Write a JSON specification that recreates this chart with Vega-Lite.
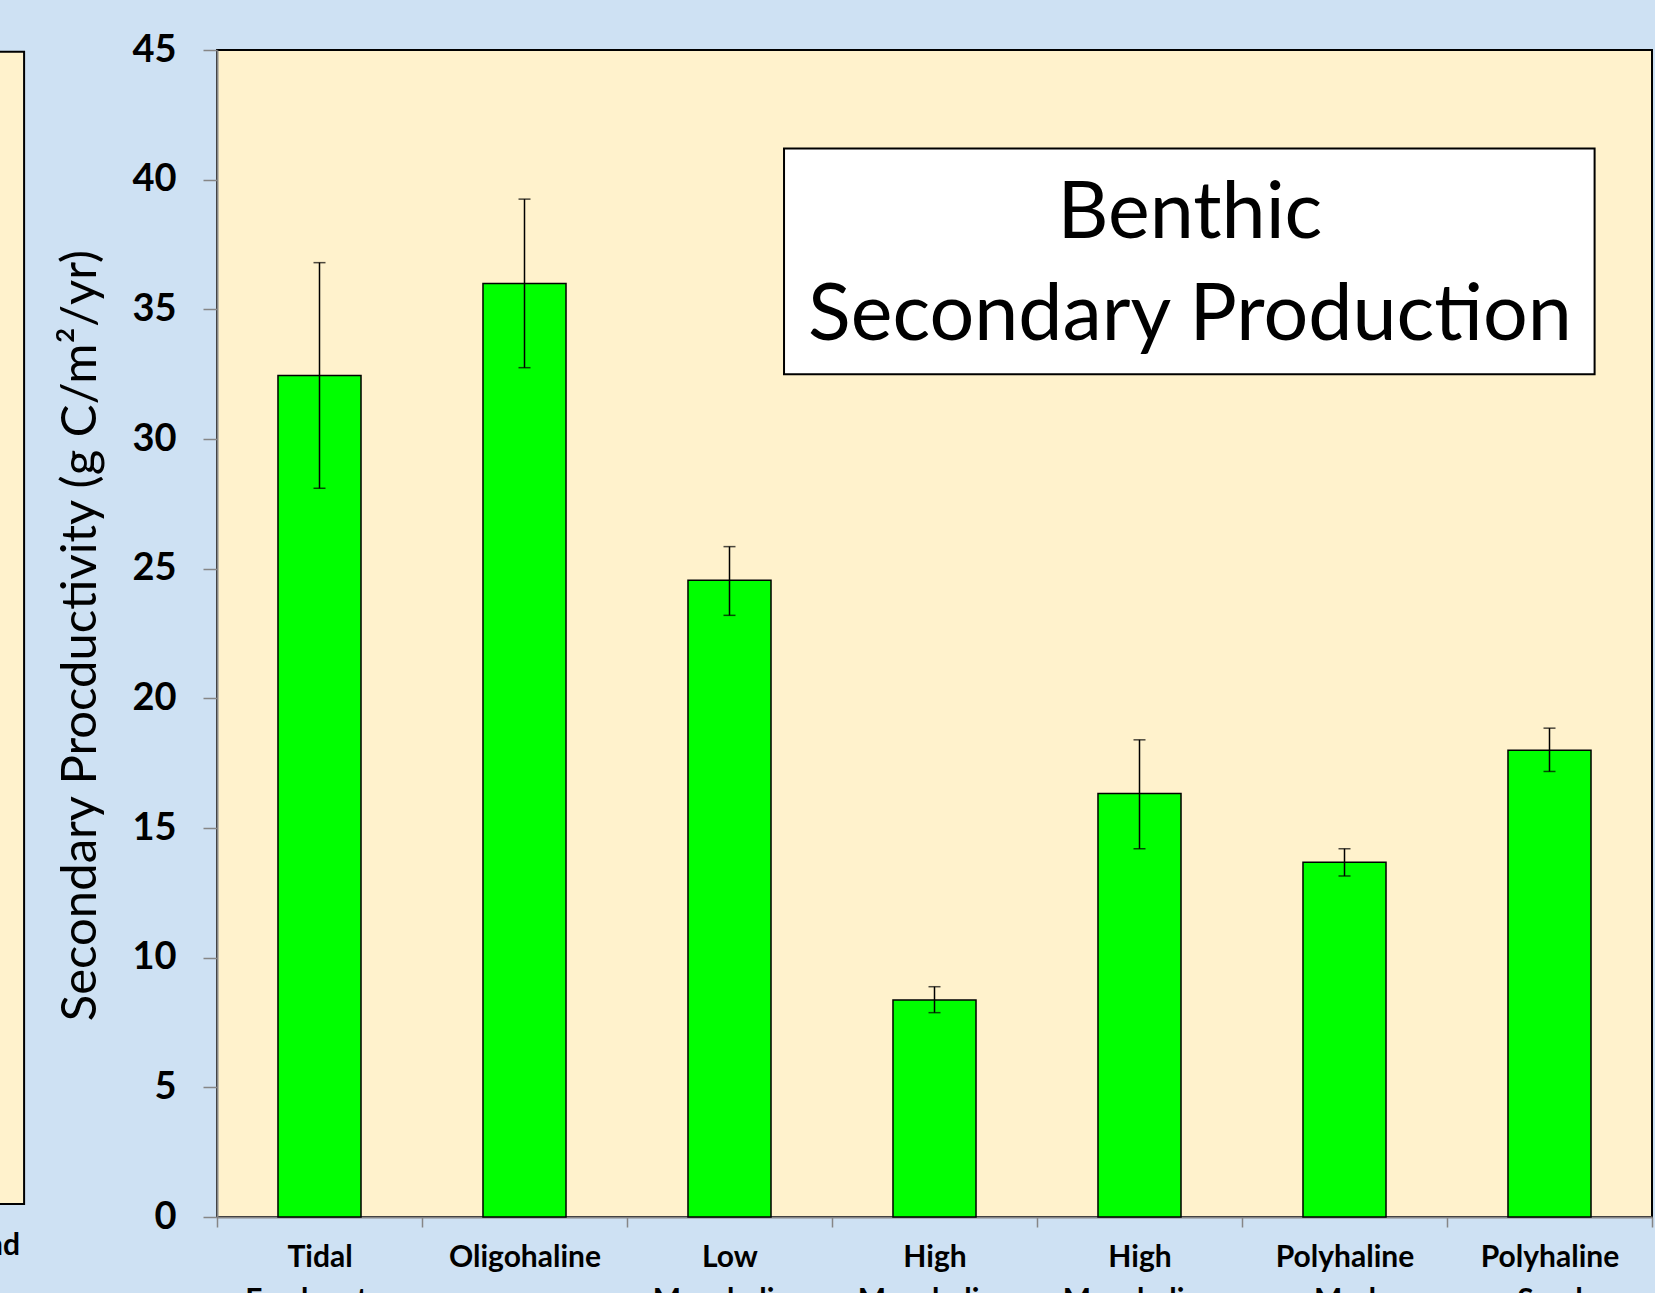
{
  "$schema": "https://vega.github.io/schema/vega-lite/v6.json",
  "width": 1435,
  "height": 1167,
  "autosize": {"type": "none"},
  "padding": {"left": 217, "top": 50, "right": 3, "bottom": 76},
  "background": "#CEE1F3",
  "config": {
    "view": {"fill": "#FFF2CC", "stroke": "#000000", "strokeWidth": 2},
    "font": "Lato"
  },
  "datasets": {
    "prod": [
      {"habitat": "Tidal Freshwater", "value": 32.45, "lo": 28.1, "hi": 36.8},
      {"habitat": "Oligohaline", "value": 36.0, "lo": 32.75, "hi": 39.25},
      {"habitat": "Low Mesohaline", "value": 24.55, "lo": 23.2, "hi": 25.85},
      {"habitat": "High Mesohaline Mud", "value": 8.37, "lo": 7.88, "hi": 8.88},
      {"habitat": "High Mesohaline Sand", "value": 16.33, "lo": 14.2, "hi": 18.4},
      {"habitat": "Polyhaline Mud", "value": 13.68, "lo": 13.15, "hi": 14.2},
      {"habitat": "Polyhaline Sand", "value": 18.0, "lo": 17.18, "hi": 18.85}
    ],
    "box": [{"x1": 2.766, "x2": 6.72, "y1": 32.5, "y2": 41.2}],
    "boxtext": [
      {"line": "Benthic", "x": 4.746, "y": 37.75},
      {"line": "Secondary Production", "x": 4.746, "y": 33.8}
    ],
    "leftpanel": [{"x1": -2, "x2": -0.941, "y1": 0.5, "y2": 44.93}],
    "lefttext": [{"label": "Sand", "x": -0.961, "y": -1.47}]
  },
  "layer": [
    {
      "data": {"name": "prod"},
      "encoding": {
        "x": {
          "field": "habitat",
          "type": "nominal",
          "sort": null,
          "scale": {"paddingInner": 0, "paddingOuter": 0},
          "axis": {
            "title": null,
            "labelAngle": 0,
            "labelExpr": "datum.value ? split(datum.value, ' ') : ''",
            "labelFont": "Lato",
            "labelFontSize": 30,
            "labelFontWeight": "bold",
            "labelColor": "#000000",
            "labelLineHeight": 43,
            "labelBaseline": "top",
            "labelPadding": 15,
            "tickBand": "extent",
            "tickSize": 10,
            "tickColor": "#868686",
            "tickWidth": 1.5,
            "domainColor": "#868686",
            "domainWidth": 2,
            "grid": false
          }
        }
      },
      "layer": [
        {
          "mark": {"type": "bar", "fill": "#00FF00", "stroke": "#000000", "strokeWidth": 1.5, "width": {"band": 0.405}},
          "encoding": {
            "y": {
              "field": "value",
              "type": "quantitative",
              "scale": {"domain": [0, 45], "nice": false},
              "axis": {
                "values": [0, 5, 10, 15, 20, 25, 30, 35, 40, 45],
                "grid": false,
                "title": "Secondary Procductivity (g C/m²/yr)",
                "titleFont": "Lato",
                "titleFontSize": 49,
                "titleFontWeight": "normal",
                "titleColor": "#000000",
                "titleAngle": -90,
                "titleAlign": "center",
                "titleBaseline": "middle",
                "titleX": -137,
                "titleY": 585,
                "labelFont": "Lato",
                "labelFontSize": 38,
                "labelFontWeight": "bold",
                "labelColor": "#000000",
                "labelPadding": 27,
                "tickSize": 14,
                "tickColor": "#868686",
                "tickWidth": 1.5,
                "domainColor": "#868686",
                "domainWidth": 2
              }
            }
          }
        },
        {
          "mark": {"type": "rule", "color": "#000000", "strokeWidth": 1.5},
          "encoding": {
            "y": {"field": "lo", "type": "quantitative", "scale": {"domain": [0, 45], "nice": false}},
            "y2": {"field": "hi"}
          }
        },
        {
          "mark": {"type": "tick", "color": "#000000", "size": 12, "thickness": 1.5, "orient": "horizontal"},
          "encoding": {
            "y": {"field": "hi", "type": "quantitative", "scale": {"domain": [0, 45], "nice": false}}
          }
        },
        {
          "mark": {"type": "tick", "color": "#000000", "size": 12, "thickness": 1.5, "orient": "horizontal"},
          "encoding": {
            "y": {"field": "lo", "type": "quantitative", "scale": {"domain": [0, 45], "nice": false}}
          }
        }
      ]
    },
    {
      "layer": [
        {
          "data": {"name": "leftpanel"},
          "mark": {"type": "rect", "fill": "#FFF2CC", "stroke": "#000000", "strokeWidth": 2},
          "encoding": {
            "x": {"field": "x1", "type": "quantitative", "scale": {"domain": [0, 7], "nice": false, "zero": false}, "axis": null},
            "x2": {"field": "x2"},
            "y": {"field": "y1", "type": "quantitative", "scale": {"domain": [0, 45], "nice": false}},
            "y2": {"field": "y2"}
          }
        },
        {
          "data": {"name": "lefttext"},
          "mark": {"type": "text", "font": "Lato", "fontSize": 30, "fontWeight": "bold", "align": "right", "baseline": "alphabetic", "color": "#000000"},
          "encoding": {
            "x": {"field": "x", "type": "quantitative", "scale": {"domain": [0, 7], "nice": false, "zero": false}, "axis": null},
            "y": {"field": "y", "type": "quantitative", "scale": {"domain": [0, 45], "nice": false}},
            "text": {"field": "label"}
          }
        },
        {
          "data": {"name": "box"},
          "mark": {"type": "rect", "fill": "#FFFFFF", "stroke": "#000000", "strokeWidth": 2},
          "encoding": {
            "x": {"field": "x1", "type": "quantitative", "scale": {"domain": [0, 7], "nice": false, "zero": false}, "axis": null},
            "x2": {"field": "x2"},
            "y": {"field": "y1", "type": "quantitative", "scale": {"domain": [0, 45], "nice": false}},
            "y2": {"field": "y2"}
          }
        },
        {
          "data": {"name": "boxtext"},
          "mark": {"type": "text", "font": "Lato", "fontSize": 79, "fontWeight": "normal", "align": "center", "baseline": "alphabetic", "color": "#000000"},
          "encoding": {
            "x": {"field": "x", "type": "quantitative", "scale": {"domain": [0, 7], "nice": false, "zero": false}, "axis": null},
            "y": {"field": "y", "type": "quantitative", "scale": {"domain": [0, 45], "nice": false}},
            "text": {"field": "line"}
          }
        }
      ]
    }
  ],
  "resolve": {"scale": {"x": "independent"}, "axis": {"x": "independent"}}
}
